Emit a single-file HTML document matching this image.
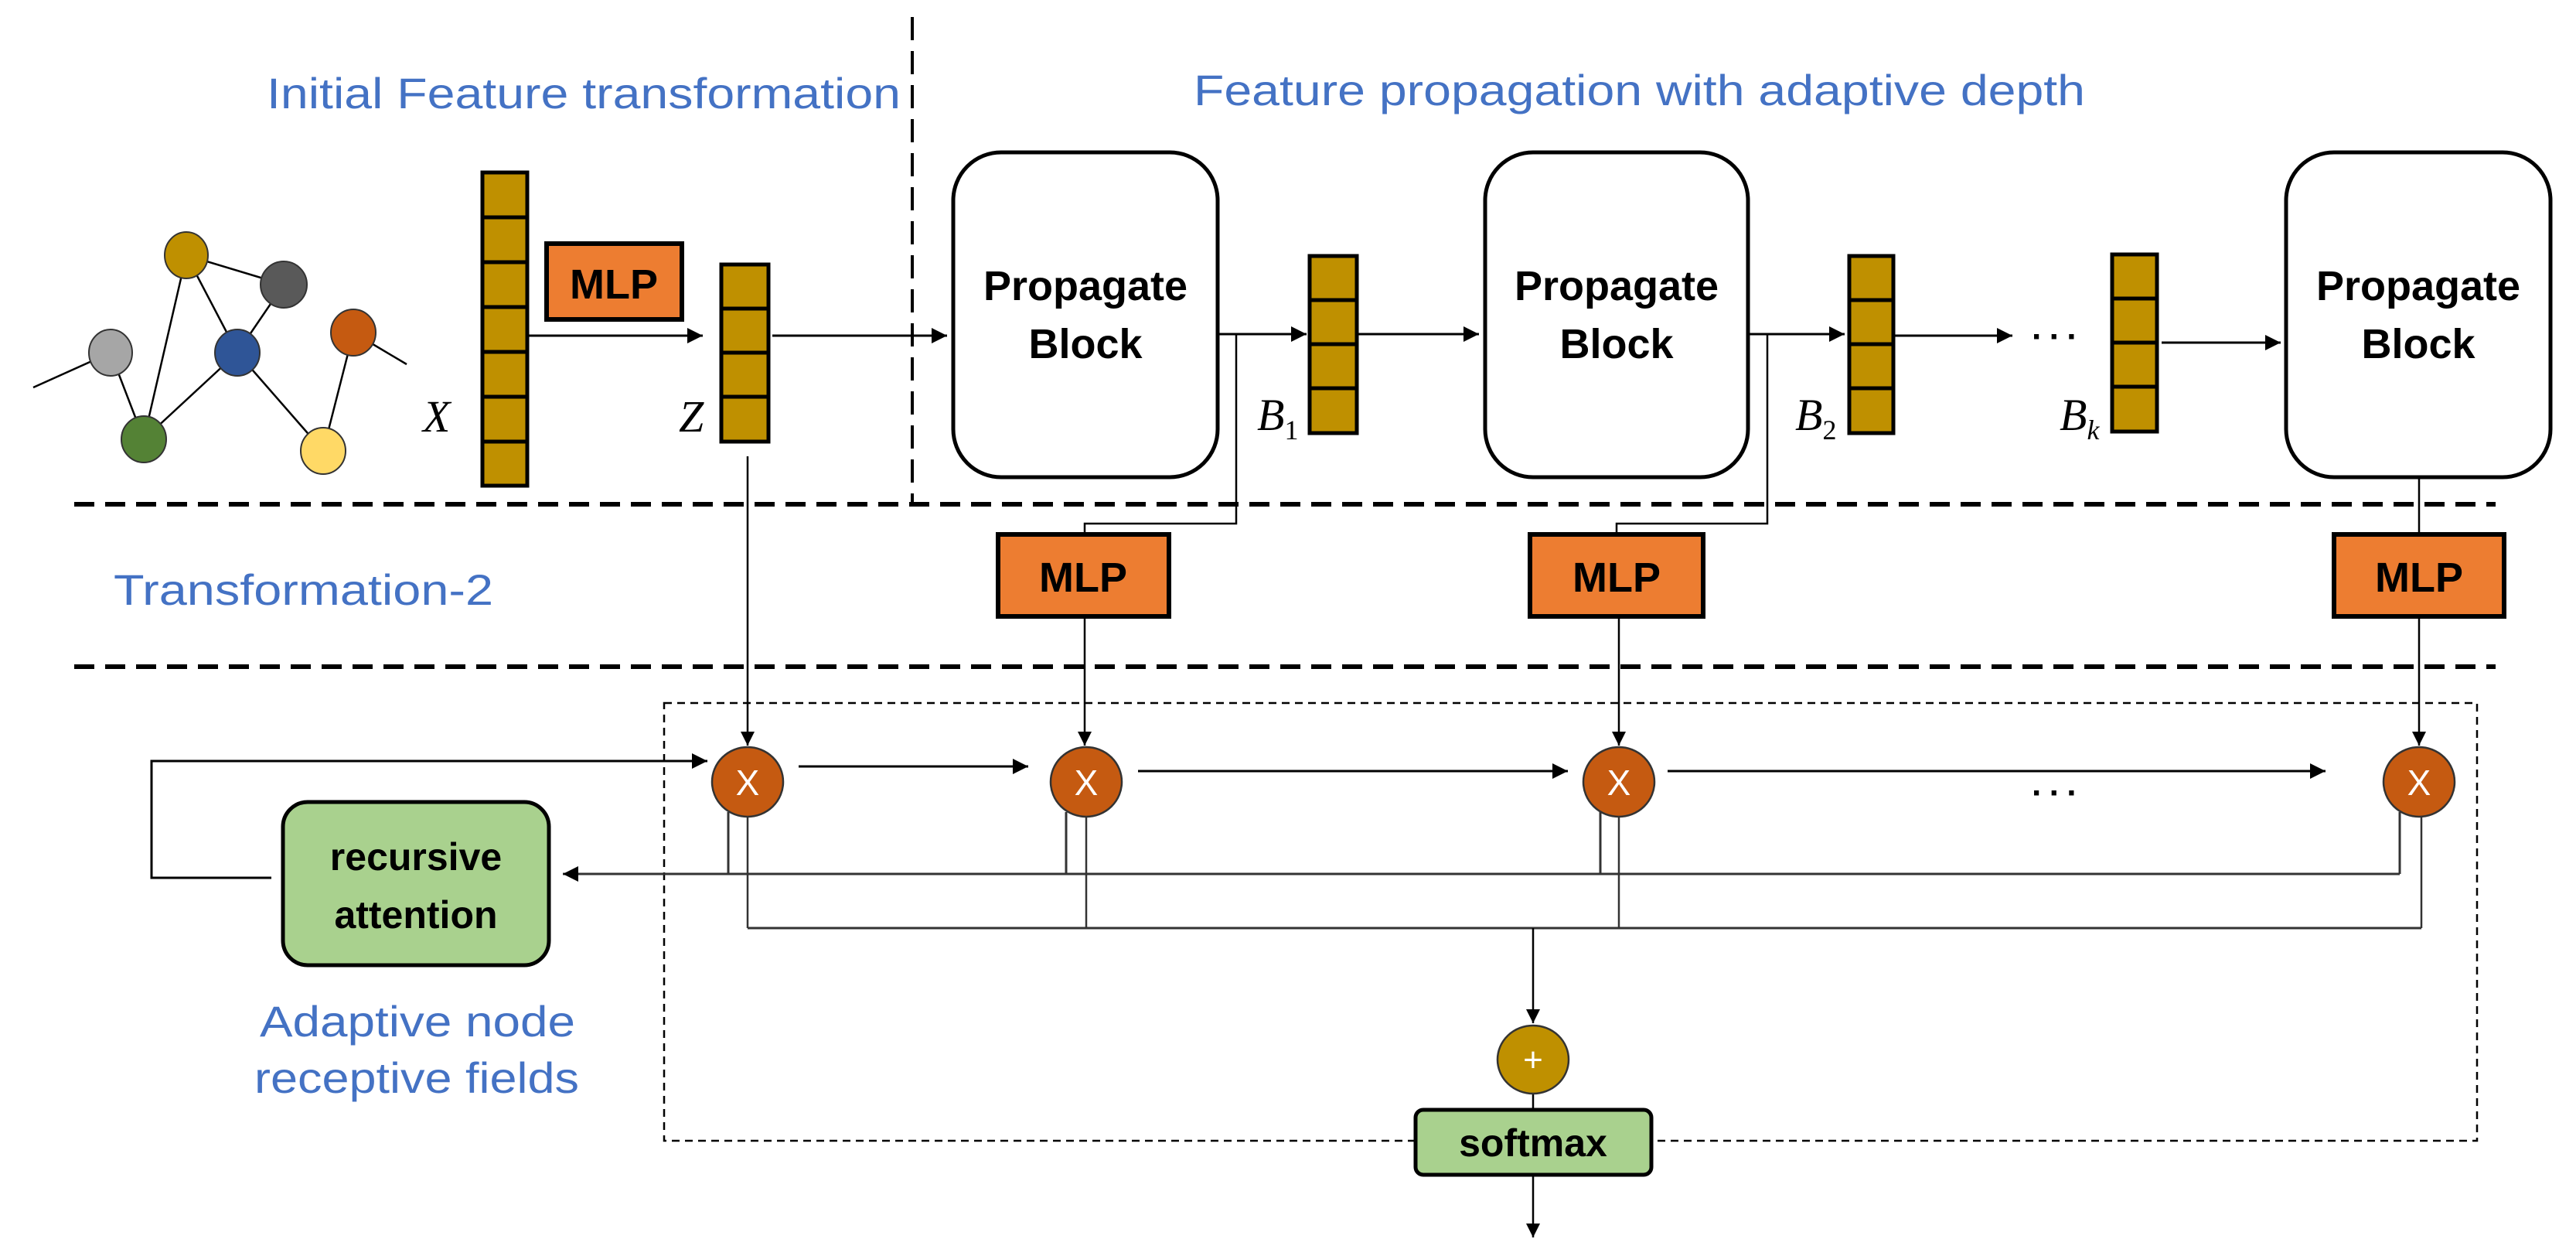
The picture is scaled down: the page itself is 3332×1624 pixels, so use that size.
<!DOCTYPE html>
<html><head><meta charset="utf-8"><style>html,body{margin:0;padding:0;background:#fff}svg{display:block}</style></head>
<body>
<svg width="3332" height="1624" viewBox="0 0 3332 1624" xmlns="http://www.w3.org/2000/svg" font-family="Liberation Sans, sans-serif">
<defs>
<marker id="ah" viewBox="0 0 10 10" refX="10" refY="5" markerWidth="18" markerHeight="22" orient="auto" markerUnits="userSpaceOnUse"><path d="M0,0 L10,5 L0,10 z" fill="#000"/></marker>
<marker id="a" viewBox="0 0 10 10" refX="10" refY="5" markerWidth="20" markerHeight="20" orient="auto" markerUnits="userSpaceOnUse"><path d="M0,0 L10,5 L0,10 z" fill="#000"/></marker>
</defs>
<rect width="3332" height="1624" fill="#fff"/>

<g fill="#4472C4" font-size="56">
<text x="345" y="140" textLength="820" lengthAdjust="spacingAndGlyphs">Initial Feature transformation</text>
<text x="1544" y="136" textLength="1153" lengthAdjust="spacingAndGlyphs">Feature propagation with adaptive depth</text>
<text x="147" y="782" textLength="491" lengthAdjust="spacingAndGlyphs">Transformation-2</text>
<text x="336" y="1340" textLength="408" lengthAdjust="spacingAndGlyphs">Adaptive node</text>
<text x="329" y="1413" textLength="420" lengthAdjust="spacingAndGlyphs">receptive fields</text>
</g>

<g stroke="#000" stroke-width="6" stroke-dasharray="26,14" fill="none">
<line x1="96" y1="652" x2="3228" y2="652"/>
<line x1="96" y1="862" x2="3228" y2="862"/>
</g>
<line x1="1180" y1="22" x2="1180" y2="652" stroke="#000" stroke-width="4" stroke-dasharray="30,14"/>

<g stroke="#000" stroke-width="2.5">
<line x1="241" y1="330" x2="367" y2="368"/>
<line x1="241" y1="330" x2="186" y2="568"/>
<line x1="241" y1="330" x2="307" y2="456"/>
<line x1="367" y1="368" x2="307" y2="456"/>
<line x1="307" y1="456" x2="186" y2="568"/>
<line x1="307" y1="456" x2="418" y2="583"/>
<line x1="143" y1="456" x2="186" y2="568"/>
<line x1="143" y1="456" x2="43" y2="501"/>
<line x1="457" y1="430" x2="418" y2="583"/>
<line x1="457" y1="430" x2="526" y2="471"/>
</g>
<g stroke="#333" stroke-width="2">
<ellipse cx="241" cy="330" rx="28" ry="30" fill="#BF9000"/>
<ellipse cx="367" cy="368" rx="30" ry="30" fill="#595959"/>
<ellipse cx="143" cy="456" rx="28" ry="30" fill="#A6A6A6"/>
<ellipse cx="307" cy="456" rx="29" ry="30" fill="#2F5597"/>
<ellipse cx="457" cy="430" rx="29" ry="30" fill="#C55A11"/>
<ellipse cx="186" cy="568" rx="29" ry="30" fill="#548235"/>
<ellipse cx="418" cy="583" rx="29" ry="30" fill="#FFD966"/>
</g>

<g fill="#BF9000" stroke="#000" stroke-width="5">
<rect x="624" y="223" width="58" height="58"/><rect x="624" y="281" width="58" height="58"/>
<rect x="624" y="339" width="58" height="58"/><rect x="624" y="397" width="58" height="58"/>
<rect x="624" y="455" width="58" height="58"/><rect x="624" y="513" width="58" height="58"/>
<rect x="624" y="571" width="58" height="57"/>
<rect x="933" y="342" width="61" height="57"/><rect x="933" y="399" width="61" height="57"/>
<rect x="933" y="456" width="61" height="57"/><rect x="933" y="513" width="61" height="58"/>
<rect x="1694" y="331" width="61" height="57"/><rect x="1694" y="388" width="61" height="57"/>
<rect x="1694" y="445" width="61" height="57"/><rect x="1694" y="502" width="61" height="58"/>
<rect x="2392" y="331" width="57" height="57"/><rect x="2392" y="388" width="57" height="57"/>
<rect x="2392" y="445" width="57" height="57"/><rect x="2392" y="502" width="57" height="58"/>
<rect x="2732" y="329" width="58" height="57"/><rect x="2732" y="386" width="58" height="57"/>
<rect x="2732" y="443" width="58" height="57"/><rect x="2732" y="500" width="58" height="58"/>
</g>
<g font-family="Liberation Serif, serif" font-style="italic" font-size="58" fill="#000">
<text x="547" y="558">X</text>
<text x="878" y="558">Z</text>
<text x="1626" y="556">B<tspan font-size="36" font-style="normal" dy="12">1</tspan></text>
<text x="2322" y="556">B<tspan font-size="36" font-style="normal" dy="12">2</tspan></text>
<text x="2664" y="556">B<tspan font-size="36" dy="12">k</tspan></text>
</g>

<g fill="#ED7D31" stroke="#000" stroke-width="6">
<rect x="707" y="315" width="175" height="98"/>
<rect x="1291" y="691" width="221" height="106"/>
<rect x="1979" y="691" width="224" height="106"/>
<rect x="3019" y="691" width="220" height="106"/>
</g>
<g font-size="54" font-weight="bold" text-anchor="middle" fill="#000">
<text x="794" y="386">MLP</text>
<text x="1401" y="765">MLP</text>
<text x="2091" y="765">MLP</text>
<text x="3129" y="765">MLP</text>
</g>

<g fill="#fff" stroke="#000" stroke-width="5">
<rect x="1233" y="197" width="342" height="420" rx="62"/>
<rect x="1921" y="197" width="340" height="420" rx="62"/>
<rect x="2957" y="197" width="342" height="420" rx="62"/>
</g>
<g font-size="54" font-weight="bold" text-anchor="middle" fill="#000">
<text x="1404" y="388">Propagate</text><text x="1404" y="463">Block</text>
<text x="2091" y="388">Propagate</text><text x="2091" y="463">Block</text>
<text x="3128" y="388">Propagate</text><text x="3128" y="463">Block</text>
</g>

<g stroke="#000" stroke-width="3" fill="none">
<line x1="682" y1="434" x2="909" y2="434" marker-end="url(#a)"/>
<line x1="999" y1="434" x2="1225" y2="434" marker-end="url(#a)"/>
<line x1="1575" y1="432" x2="1690" y2="432" marker-end="url(#a)"/>
<line x1="1756" y1="432" x2="1913" y2="432" marker-end="url(#a)"/>
<line x1="2261" y1="432" x2="2386" y2="432" marker-end="url(#a)"/>
<line x1="2449" y1="434" x2="2603" y2="434" marker-end="url(#a)"/>
<line x1="2796" y1="443" x2="2950" y2="443" marker-end="url(#a)"/>
<polyline points="1599,432 1599,677 1403,677 1403,691" stroke-width="2.5"/>
<polyline points="2286,432 2286,677 2091,677 2091,691" stroke-width="2.5"/>
<line x1="3129" y1="617" x2="3129" y2="691" stroke-width="2.5"/>
</g>
<text x="2628" y="450" font-size="44" font-weight="bold" fill="#000" letter-spacing="8">···</text>

<rect x="859" y="909" width="2345" height="566" fill="none" stroke="#000" stroke-width="2.5" stroke-dasharray="10,7"/>

<g stroke="#000" stroke-width="2.5" fill="none">
<line x1="967" y1="590" x2="967" y2="964" marker-end="url(#ah)"/>
<line x1="1403" y1="797" x2="1403" y2="964" marker-end="url(#ah)"/>
<line x1="2094" y1="797" x2="2094" y2="964" marker-end="url(#ah)"/>
<line x1="3129" y1="797" x2="3129" y2="964" marker-end="url(#ah)"/>
</g>

<g stroke="#000" stroke-width="3" fill="none">
<polyline points="351,1135 196,1135 196,984 915,984" marker-end="url(#a)"/>
<line x1="1033" y1="991" x2="1330" y2="991" marker-end="url(#a)"/>
<line x1="1472" y1="997" x2="2028" y2="997" marker-end="url(#a)"/>
<line x1="2157" y1="997" x2="3008" y2="997" marker-end="url(#a)"/>
</g>
<text x="2628" y="1040" font-size="44" font-weight="bold" fill="#000" letter-spacing="8">···</text>

<g stroke="#333" stroke-width="3" fill="none">
<line x1="3104" y1="1130" x2="728" y2="1130" marker-end="url(#a)"/>
<line x1="942" y1="1050" x2="942" y2="1130"/>
<line x1="1379" y1="1050" x2="1379" y2="1130"/>
<line x1="2070" y1="1050" x2="2070" y2="1130"/>
<line x1="3104" y1="1050" x2="3104" y2="1130"/>
<line x1="967" y1="1200" x2="3132" y2="1200"/>
<line x1="967" y1="1056" x2="967" y2="1200" stroke-width="2.5"/>
<line x1="1405" y1="1056" x2="1405" y2="1200" stroke-width="2.5"/>
<line x1="2094" y1="1056" x2="2094" y2="1200" stroke-width="2.5"/>
<line x1="3132" y1="1056" x2="3132" y2="1200" stroke-width="2.5"/>
</g>
<g stroke="#000" stroke-width="2.5" fill="none">
<line x1="1983" y1="1200" x2="1983" y2="1323" marker-end="url(#ah)"/>
<line x1="1983" y1="1414" x2="1983" y2="1436"/>
<line x1="1983" y1="1519" x2="1983" y2="1600" marker-end="url(#ah)"/>
</g>

<g fill="#C55A11" stroke="#333" stroke-width="2.5">
<ellipse cx="967" cy="1011" rx="46" ry="45"/>
<ellipse cx="1405" cy="1011" rx="46" ry="45"/>
<ellipse cx="2094" cy="1011" rx="46" ry="45"/>
<ellipse cx="3129" cy="1011" rx="46" ry="45"/>
</g>
<g fill="#fff" font-size="46" text-anchor="middle">
<text x="967" y="1028">X</text><text x="1405" y="1028">X</text>
<text x="2094" y="1028">X</text><text x="3129" y="1028">X</text>
</g>

<ellipse cx="1983" cy="1370" rx="46" ry="44" fill="#BF9000" stroke="#333" stroke-width="2.5"/>
<text x="1983" y="1385" fill="#fff" font-size="44" text-anchor="middle">+</text>

<rect x="366" y="1037" width="344" height="211" rx="32" fill="#A9D18E" stroke="#000" stroke-width="5"/>
<text x="538" y="1125" font-size="50" font-weight="bold" text-anchor="middle">recursive</text>
<text x="538" y="1200" font-size="50" font-weight="bold" text-anchor="middle">attention</text>
<rect x="1831" y="1435" width="305" height="84" rx="10" fill="#A9D18E" stroke="#000" stroke-width="5"/>
<text x="1983" y="1495" font-size="50" font-weight="bold" text-anchor="middle">softmax</text>
</svg>
</body></html>
